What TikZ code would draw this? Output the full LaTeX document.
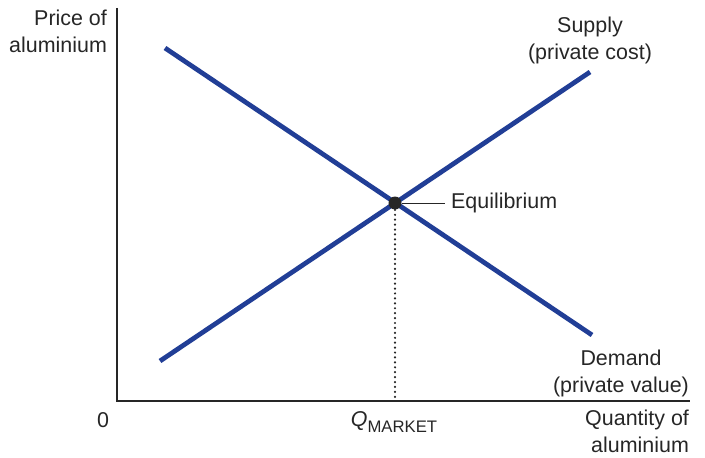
\documentclass[tikz,border=0pt]{standalone}
\usepackage{fontspec}
\setmainfont{Liberation Sans}
\usepackage{tikz}
\usetikzlibrary{positioning,calc}

\definecolor{curveblue}{RGB}{33,62,150}

\begin{document}
\begin{tikzpicture}[x=0.02cm, y=0.02cm,
  ax/.style={semithick, black!85},
  curve/.style={line width=2.7pt, curveblue},
  lbl/.style={font=\fontsize{12.2}{15.4}\selectfont, text=black!85, inner sep=1pt},
  eqdot/.style={circle, fill=black!85, inner sep=0pt, minimum size=0.26cm},
]
\useasboundingbox (0,0) rectangle (705,457);

% axes
\coordinate (O) at (117,56);
\coordinate (ytop) at (117,449);
\coordinate (xend) at (690,56);
\draw[ax] (ytop) -- (O) -- (xend);

% curves
\coordinate (D1) at (165,409);
\coordinate (D2) at (592,122);
\coordinate (S1) at (160,96);
\coordinate (S2) at (590,385);
\draw[curve] (D1) -- (D2);
\draw[curve] (S1) -- (S2);

% equilibrium
\node[eqdot] (E) at (395,254) {};
\coordinate (Qm) at (395,56);
\draw[line width=1.4pt, line cap=round, dash pattern=on 0pt off 2.8pt, black!85] (E) -- (Qm);
\node[lbl, anchor=west] (eqlbl) at (449,254) {Equilibrium};
\draw[black!85, shorten >=2pt] (E) -- (eqlbl);

% labels
\node[lbl, anchor=east, align=right] (pricelbl) at (109,426) {Price of\\aluminium};
\node[lbl, align=center] (supplylbl) at (590,417) {Supply\\(private cost)};
\node[lbl, align=center] (demandlbl) at (621,84) {Demand\\(private value)};
\node[lbl, anchor=east, align=right] (qtylbl) at (691,26) {Quantity of\\aluminium};
\node[lbl] (zerolbl) at (103,37) {0};
\node[lbl] (qmlbl) at (394,35) {\textit{Q}\raisebox{-0.45ex}{\fontsize{9.5}{10}\selectfont MARKET}};
\end{tikzpicture}
\end{document}
